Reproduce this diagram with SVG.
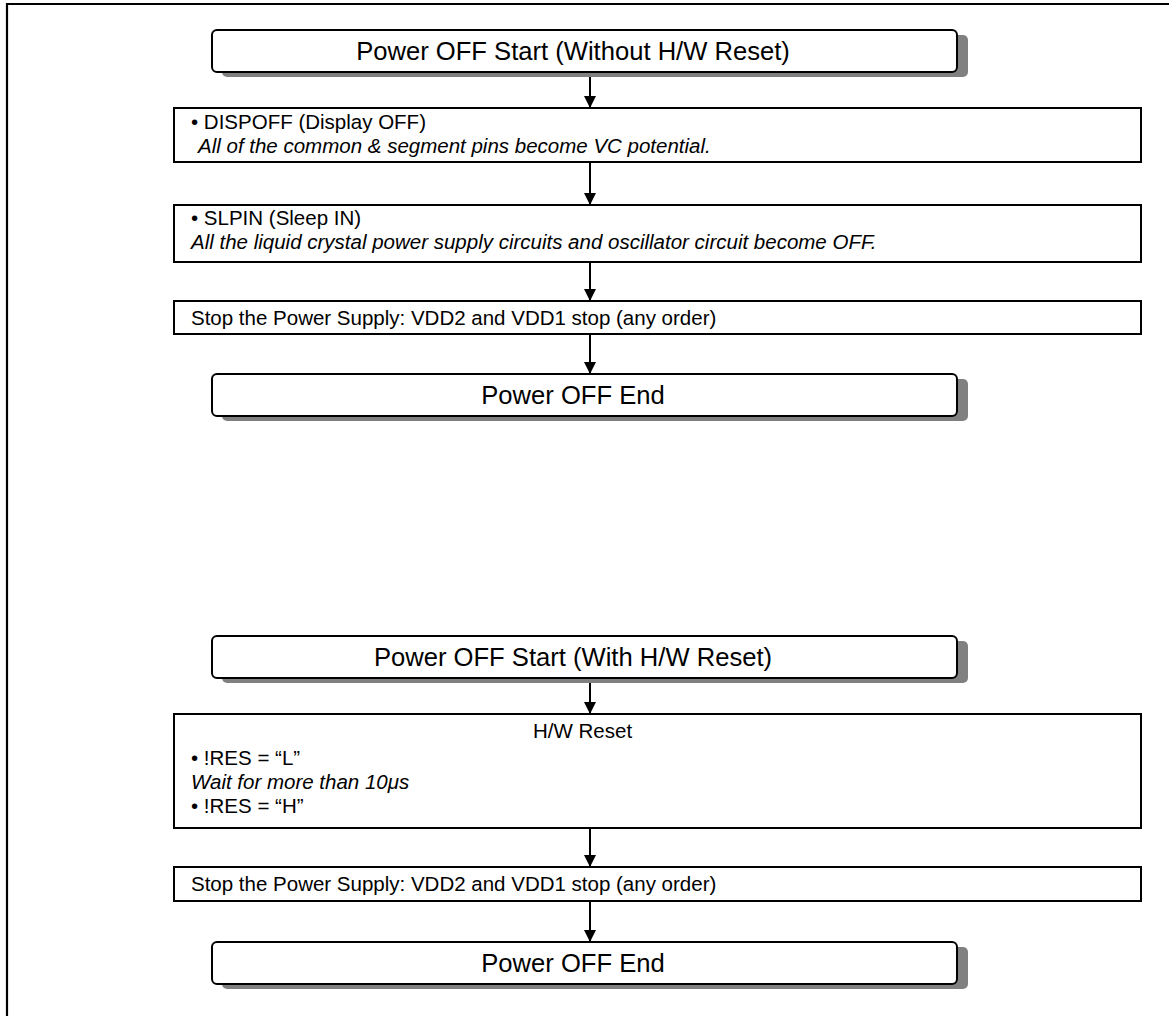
<svg xmlns="http://www.w3.org/2000/svg" width="1169" height="1016" viewBox="0 0 1169 1016">
<defs>
<style>
.t{font-family:"Liberation Sans",Arial,sans-serif;fill:#000}
.big{font-size:25.6px}
.s{font-size:20.5px}
.i{font-style:italic}
.box{fill:#fff;stroke:#000;stroke-width:2}
.rbox{fill:#fff;stroke:#000;stroke-width:2}
.sh{fill:#808080}
.ln{stroke:#000;stroke-width:2;fill:none}
</style>
<marker id="ah" markerWidth="12" markerHeight="12" refX="12" refY="6" orient="auto" markerUnits="userSpaceOnUse">
<path d="M0,0 L12,6 L0,12 Z" fill="#000"/>
</marker>
</defs>
<rect width="1169" height="1016" fill="#fff"/>
<path d="M7,1016 V4 H1169" fill="none" stroke="#000" stroke-width="2.2"/>
<g id="connectors">
<line class="ln" x1="590" y1="72" x2="590" y2="108" marker-end="url(#ah)"/>
<line class="ln" x1="590" y1="162" x2="590" y2="205" marker-end="url(#ah)"/>
<line class="ln" x1="590" y1="262" x2="590" y2="301" marker-end="url(#ah)"/>
<line class="ln" x1="590" y1="334" x2="590" y2="374" marker-end="url(#ah)"/>
<line class="ln" x1="590" y1="678" x2="590" y2="714" marker-end="url(#ah)"/>
<line class="ln" x1="590" y1="828" x2="590" y2="867" marker-end="url(#ah)"/>
<line class="ln" x1="590" y1="901" x2="590" y2="942" marker-end="url(#ah)"/>
</g>
<g id="start1">
<rect class="sh" x="222" y="35" width="746" height="42" rx="5"/>
<rect class="rbox" x="212" y="30" width="745" height="42" rx="5"/>
<text class="t big" x="573" y="60" text-anchor="middle">Power OFF Start (Without H/W Reset)</text>
</g>
<g id="dispoff">
<rect class="box" x="174" y="108" width="967" height="54"/>
<text class="t s" x="191" y="129">• DISPOFF (Display OFF)</text>
<text class="t s i" x="198" y="153">All of the common &amp; segment pins become VC potential.</text>
</g>
<g id="slpin">
<rect class="box" x="174" y="205" width="967" height="57"/>
<text class="t s" x="191" y="225">• SLPIN (Sleep IN)</text>
<text class="t s i" x="191" y="249">All the liquid crystal power supply circuits and oscillator circuit become OFF.</text>
</g>
<g id="stop1">
<rect class="box" x="174" y="301" width="967" height="33"/>
<text class="t s" x="191" y="325">Stop the Power Supply: VDD2 and VDD1 stop (any order)</text>
</g>
<g id="end1">
<rect class="sh" x="222" y="379" width="746" height="42" rx="5"/>
<rect class="rbox" x="212" y="374" width="745" height="42" rx="5"/>
<text class="t big" x="573" y="404" text-anchor="middle">Power OFF End</text>
</g>
<g id="start2">
<rect class="sh" x="222" y="641" width="746" height="42" rx="5"/>
<rect class="rbox" x="212" y="636" width="745" height="42" rx="5"/>
<text class="t big" x="573" y="666" text-anchor="middle">Power OFF Start (With H/W Reset)</text>
</g>
<g id="hwreset">
<rect class="box" x="174" y="714" width="967" height="114"/>
<text class="t s" x="533" y="738">H/W Reset</text>
<text class="t s" x="191" y="765">• !RES = “L”</text>
<text class="t s i" x="191" y="789">Wait for more than 10μs</text>
<text class="t s" x="191" y="813">• !RES = “H”</text>
</g>
<g id="stop2">
<rect class="box" x="174" y="867" width="967" height="34"/>
<text class="t s" x="191" y="891">Stop the Power Supply: VDD2 and VDD1 stop (any order)</text>
</g>
<g id="end2">
<rect class="sh" x="222" y="947" width="746" height="42" rx="5"/>
<rect class="rbox" x="212" y="942" width="745" height="42" rx="5"/>
<text class="t big" x="573" y="972" text-anchor="middle">Power OFF End</text>
</g>
</svg>
